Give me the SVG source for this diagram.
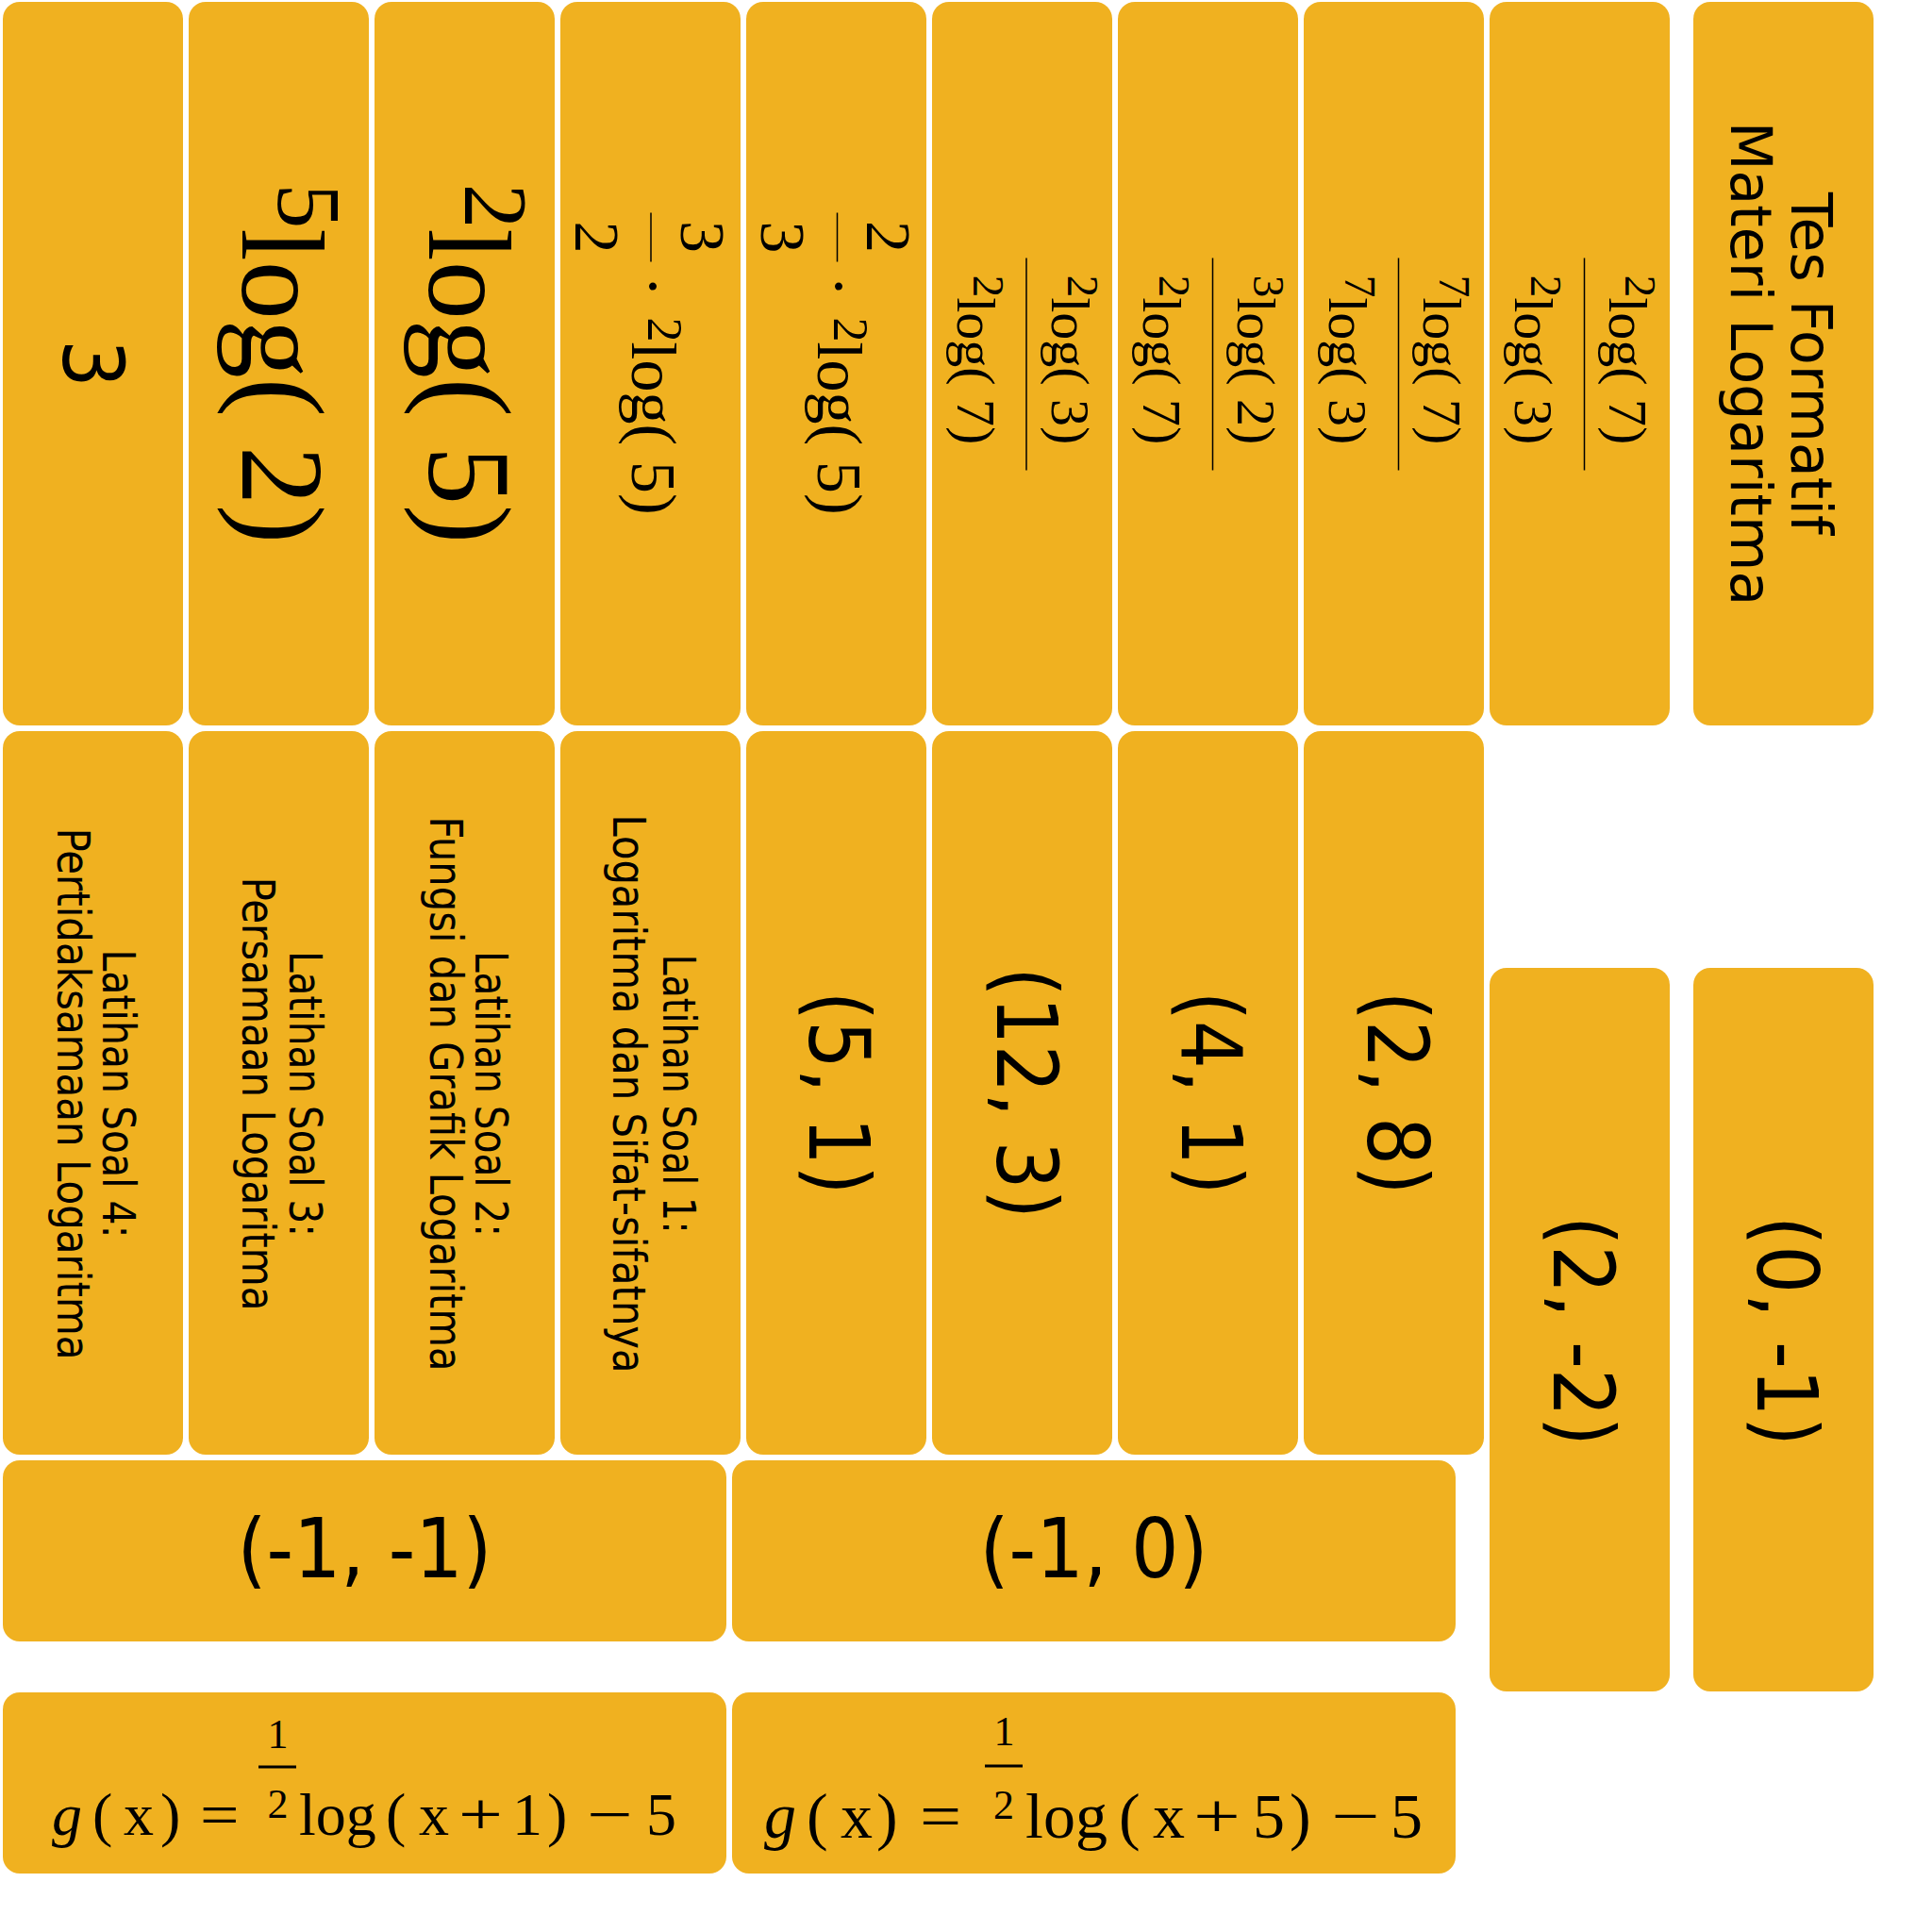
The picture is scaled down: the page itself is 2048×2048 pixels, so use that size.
<svg xmlns="http://www.w3.org/2000/svg" width="2048" height="2048" viewBox="0 0 2048 2048">
<style>
.card{fill:#F0B120}
.serif{font-family:"Liberation Serif","Times New Roman",serif;fill:#000}
.sans{font-family:"DejaVu Sans","Liberation Sans",sans-serif;fill:#000}
.cond{font-family:"DejaVu Sans Condensed","DejaVu Sans","Liberation Sans",sans-serif;font-stretch:condensed;fill:#000}
.bar{stroke:#000;stroke-width:1.5}
.bar3{stroke:#000;stroke-width:3}
</style>
<rect width="2048" height="2048" fill="#fff"/>
<g id="connectors"/>

<!-- Row 1 -->
<g id="c-3">
<rect class="card" x="3" y="2" width="191" height="767" rx="18"/>
<text class="cond" transform="translate(98.5,385.5) rotate(90)" x="0" y="32" font-size="89" text-anchor="middle">3</text>
</g>
<g id="c-5log2">
<rect class="card" x="200" y="2" width="191" height="767" rx="18"/>
<text class="serif" transform="translate(295.5,385.5) rotate(90)" x="0" y="38.5" text-anchor="middle"><tspan font-size="95" dy="-38">5</tspan><tspan font-size="124" dy="38">log( 2)</tspan></text>
</g>
<g id="c-2log5">
<rect class="card" x="397" y="2" width="191" height="767" rx="18"/>
<text class="serif" transform="translate(492.5,385.5) rotate(90)" x="0" y="37.5" text-anchor="middle"><tspan font-size="95" dy="-38">2</tspan><tspan font-size="124" dy="38">log( 5)</tspan></text>
</g>
<g id="c-3over2">
<rect class="card" x="594" y="2" width="191" height="767" rx="18"/>
<g transform="translate(689.5,385.5) rotate(90)">
<text class="serif" x="-134.5" y="-32.5" font-size="68" text-anchor="middle">3</text>
<line class="bar" x1="-160" y1="-0.5" x2="-108" y2="-0.5"/>
<text class="serif" x="-134" y="79.5" font-size="68" text-anchor="middle">2</text>
<text class="serif" x="-82" y="19.5" font-size="68" text-anchor="middle">·</text>
<text class="serif" x="-49" y="2.5" font-size="52">2</text>
<text class="serif" x="-23" y="19.5" font-size="68">log( 5)</text>
</g>
</g>
<g id="c-2over3">
<rect class="card" x="791" y="2" width="191" height="767" rx="18"/>
<g transform="translate(886.5,385.5) rotate(90)">
<text class="serif" x="-134.5" y="-32.5" font-size="68" text-anchor="middle">2</text>
<line class="bar" x1="-160" y1="-1" x2="-108" y2="-1"/>
<text class="serif" x="-134" y="79.5" font-size="68" text-anchor="middle">3</text>
<text class="serif" x="-82" y="19.5" font-size="68" text-anchor="middle">·</text>
<text class="serif" x="-49" y="2.5" font-size="52">2</text>
<text class="serif" x="-23" y="19.5" font-size="68">log( 5)</text>
</g>
</g>
<g id="c-2log3-2log7">
<rect class="card" x="988" y="2" width="191" height="767" rx="18"/>
<g transform="translate(1083.5,385.5) rotate(90)">
<text class="serif" x="-4" y="-31.5" text-anchor="middle"><tspan font-size="47" dy="-17">2</tspan><tspan font-size="58" dy="17">log( 3)</tspan></text>
<line class="bar" x1="-112" y1="-4.5" x2="113" y2="-4.5"/>
<text class="serif" x="-4" y="68.5" text-anchor="middle"><tspan font-size="47" dy="-17">2</tspan><tspan font-size="58" dy="17">log( 7)</tspan></text>
</g>
</g>
<g id="c-3log2-2log7">
<rect class="card" x="1185" y="2" width="191" height="767" rx="18"/>
<g transform="translate(1280.5,385.5) rotate(90)">
<text class="serif" x="-4" y="-31.5" text-anchor="middle"><tspan font-size="47" dy="-17">3</tspan><tspan font-size="58" dy="17">log( 2)</tspan></text>
<line class="bar" x1="-112" y1="-5" x2="113" y2="-5"/>
<text class="serif" x="-4" y="68.5" text-anchor="middle"><tspan font-size="47" dy="-17">2</tspan><tspan font-size="58" dy="17">log( 7)</tspan></text>
</g>
</g>
<g id="c-7log7-7log3">
<rect class="card" x="1382" y="2" width="191" height="767" rx="18"/>
<g transform="translate(1477.5,385.5) rotate(90)">
<text class="serif" x="-4" y="-31.5" text-anchor="middle"><tspan font-size="47" dy="-17">7</tspan><tspan font-size="58" dy="17">log( 7)</tspan></text>
<line class="bar" x1="-112" y1="-5" x2="113" y2="-5"/>
<text class="serif" x="-4" y="68.5" text-anchor="middle"><tspan font-size="47" dy="-17">7</tspan><tspan font-size="58" dy="17">log( 3)</tspan></text>
</g>
</g>
<g id="c-2log7-2log3">
<rect class="card" x="1579" y="2" width="191" height="767" rx="18"/>
<g transform="translate(1674.5,385.5) rotate(90)">
<text class="serif" x="-4" y="-31.5" text-anchor="middle"><tspan font-size="47" dy="-17">2</tspan><tspan font-size="58" dy="17">log( 7)</tspan></text>
<line class="bar" x1="-112" y1="-5" x2="113" y2="-5"/>
<text class="serif" x="-4" y="68.5" text-anchor="middle"><tspan font-size="47" dy="-17">2</tspan><tspan font-size="58" dy="17">log( 3)</tspan></text>
</g>
</g>
<g id="c-tes">
<rect class="card" x="1795" y="2" width="191" height="767" rx="18"/>
<g transform="translate(1890.5,385.5) rotate(90)">
<text class="sans" x="0" y="-8.5" font-size="60" text-anchor="middle">Tes Formatif</text>
<text class="sans" x="0" y="55.5" font-size="60" text-anchor="middle">Materi Logaritma</text>
</g>
</g>

<!-- Row 2 -->
<g id="c-latihan4">
<rect class="card" x="3" y="775" width="191" height="767" rx="18"/>
<g transform="translate(98.5,1158.5) rotate(90)">
<text class="cond" x="1" y="-10" font-size="48" text-anchor="middle" textLength="306" lengthAdjust="spacingAndGlyphs">Latihan Soal 4:</text>
<text class="cond" x="1" y="38" font-size="48" text-anchor="middle" textLength="564" lengthAdjust="spacingAndGlyphs">Pertidaksamaan Logaritma</text>
</g>
</g>
<g id="c-latihan3">
<rect class="card" x="200" y="775" width="191" height="767" rx="18"/>
<g transform="translate(295.5,1158.5) rotate(90)">
<text class="cond" x="1" y="-11.5" font-size="48" text-anchor="middle" textLength="303" lengthAdjust="spacingAndGlyphs">Latihan Soal 3:</text>
<text class="cond" x="1" y="38.5" font-size="48" text-anchor="middle" textLength="460" lengthAdjust="spacingAndGlyphs">Persamaan Logaritma</text>
</g>
</g>
<g id="c-latihan2">
<rect class="card" x="397" y="775" width="191" height="767" rx="18"/>
<g transform="translate(492.5,1158.5) rotate(90)">
<text class="cond" x="1" y="-11.5" font-size="48" text-anchor="middle" textLength="303" lengthAdjust="spacingAndGlyphs">Latihan Soal 2:</text>
<text class="cond" x="1" y="36.5" font-size="48" text-anchor="middle" textLength="588" lengthAdjust="spacingAndGlyphs">Fungsi dan Grafik Logaritma</text>
</g>
</g>
<g id="c-latihan1">
<rect class="card" x="594" y="775" width="191" height="767" rx="18"/>
<g transform="translate(689.5,1158.5) rotate(90)">
<text class="cond" x="1" y="-13.5" font-size="48" text-anchor="middle" textLength="296" lengthAdjust="spacingAndGlyphs">Latihan Soal 1:</text>
<text class="cond" x="1" y="39.5" font-size="48" text-anchor="middle" textLength="592" lengthAdjust="spacingAndGlyphs">Logaritma dan Sifat-sifatnya</text>
</g>
</g>
<g id="c-5-1">
<rect class="card" x="791" y="775" width="191" height="767" rx="18"/>
<text class="cond" transform="translate(886.5,1158.5) rotate(90)" x="0" y="28.5" font-size="89" text-anchor="middle" textLength="216" lengthAdjust="spacingAndGlyphs">(5, 1)</text>
</g>
<g id="c-12-3">
<rect class="card" x="988" y="775" width="191" height="767" rx="18"/>
<text class="cond" transform="translate(1083.5,1158.5) rotate(90)" x="0" y="26.5" font-size="89" text-anchor="middle" textLength="267" lengthAdjust="spacingAndGlyphs">(12, 3)</text>
</g>
<g id="c-4-1">
<rect class="card" x="1185" y="775" width="191" height="767" rx="18"/>
<text class="cond" transform="translate(1280.5,1158.5) rotate(90)" x="0" y="27.5" font-size="89" text-anchor="middle" textLength="216" lengthAdjust="spacingAndGlyphs">(4, 1)</text>
</g>
<g id="c-2-8">
<rect class="card" x="1382" y="775" width="191" height="767" rx="18"/>
<text class="cond" transform="translate(1477.5,1158.5) rotate(90)" x="0" y="27.5" font-size="89" text-anchor="middle" textLength="216" lengthAdjust="spacingAndGlyphs">(2, 8)</text>
</g>
<g id="c-2-m2">
<rect class="card" x="1579" y="1026" width="191" height="767" rx="18"/>
<text class="cond" transform="translate(1674.5,1411) rotate(90)" x="0" y="27.5" font-size="89" text-anchor="middle" textLength="244" lengthAdjust="spacingAndGlyphs">(2, -2)</text>
</g>
<g id="c-0-m1">
<rect class="card" x="1795" y="1026" width="191" height="767" rx="18"/>
<text class="cond" transform="translate(1890.5,1411) rotate(90)" x="0" y="27.5" font-size="89" text-anchor="middle" textLength="244" lengthAdjust="spacingAndGlyphs">(0, -1)</text>
</g>

<!-- Row 3 -->
<g id="c-m1-m1">
<rect class="card" x="3" y="1548" width="767" height="192" rx="18"/>
<text class="cond" x="386.5" y="1672" font-size="88" text-anchor="middle" textLength="270" lengthAdjust="spacingAndGlyphs">(-1, -1)</text>
</g>
<g id="c-m1-0">
<rect class="card" x="776" y="1548" width="767" height="192" rx="18"/>
<text class="cond" x="1159.5" y="1672" font-size="88" text-anchor="middle" textLength="242" lengthAdjust="spacingAndGlyphs">(-1, 0)</text>
</g>

<!-- Row 4 -->
<g id="c-g1">
<rect class="card" x="3" y="1794" width="767" height="192" rx="18"/>
<text class="serif" y="1945" font-size="64"><tspan x="55" font-style="italic">g</tspan><tspan x="98">(</tspan><tspan x="131">x</tspan><tspan x="170">)</tspan><tspan x="317">log</tspan><tspan x="409">(</tspan><tspan x="444">x</tspan><tspan x="543">1</tspan><tspan x="580">)</tspan><tspan x="685">5</tspan></text>
<text class="serif" transform="translate(212,1945) scale(1.15,1)" font-size="64">=</text>
<text class="serif" transform="translate(486,1945) scale(1.3,1)" font-size="64">+</text>
<text class="serif" transform="translate(622,1945) scale(1.35,1)" font-size="64">−</text>
<text class="serif" x="294.5" y="1853" font-size="44" text-anchor="middle">1</text>
<line class="bar3" x1="274" y1="1873" x2="314" y2="1873"/>
<text class="serif" x="294.5" y="1927" font-size="44" text-anchor="middle">2</text>
</g>
<g id="c-g2">
<rect class="card" x="776" y="1794" width="767" height="192" rx="18"/>
<text class="serif" y="1948" font-size="68"><tspan x="810" font-style="italic">g</tspan><tspan x="855">(</tspan><tspan x="891">x</tspan><tspan x="929">)</tspan><tspan x="1087">log</tspan><tspan x="1186">(</tspan><tspan x="1222">x</tspan><tspan x="1328">5</tspan><tspan x="1367">)</tspan><tspan x="1474">5</tspan></text>
<text class="serif" transform="translate(975,1948) scale(1.15,1)" font-size="68">=</text>
<text class="serif" transform="translate(1265,1948) scale(1.3,1)" font-size="68">+</text>
<text class="serif" transform="translate(1411,1948) scale(1.35,1)" font-size="68">−</text>
<text class="serif" x="1064.5" y="1850" font-size="44" text-anchor="middle">1</text>
<line class="bar3" x1="1044" y1="1872" x2="1084" y2="1872"/>
<text class="serif" x="1064" y="1928" font-size="44" text-anchor="middle">2</text>
</g>
</svg>
